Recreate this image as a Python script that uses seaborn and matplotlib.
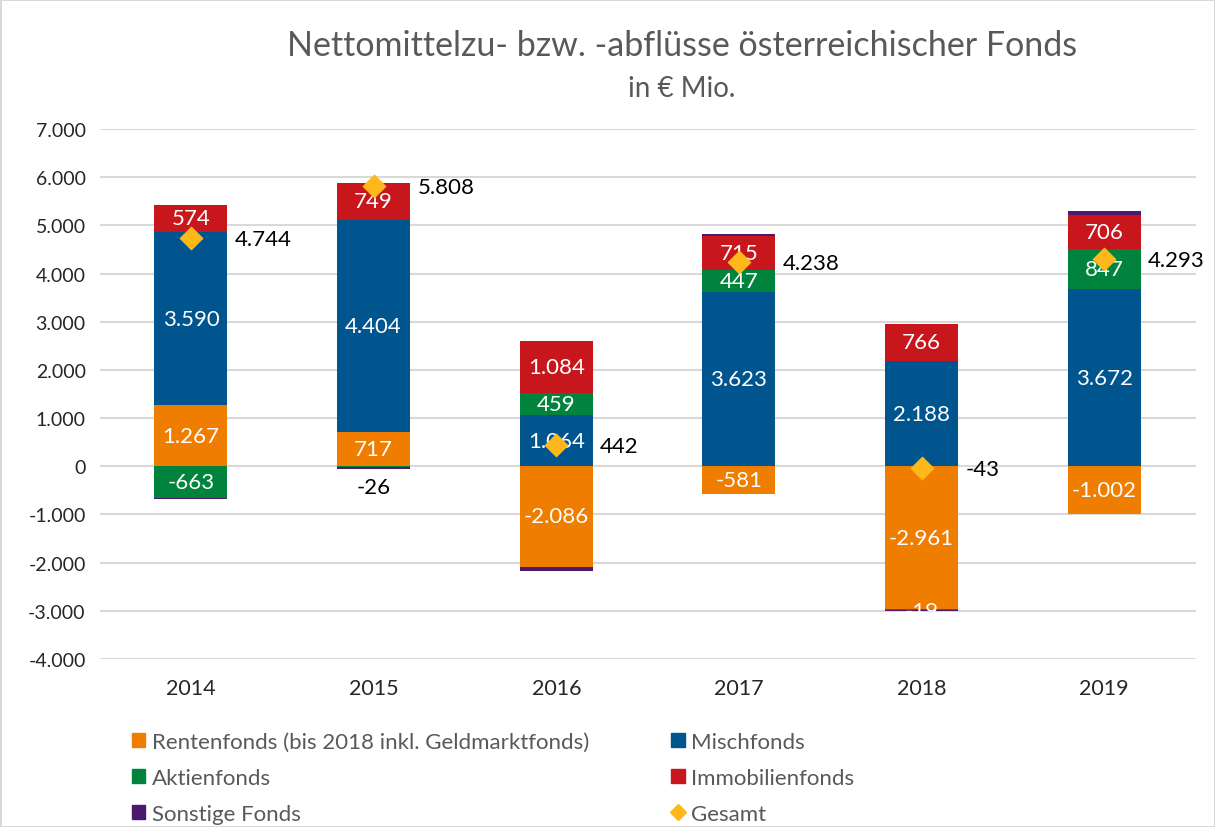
import matplotlib
matplotlib.use("Agg")
import matplotlib.pyplot as plt
from matplotlib.lines import Line2D
from matplotlib.patches import Patch
import numpy as np
import pandas as pd
import seaborn as sns

# Data (in EUR Mio.)
years = ["2014", "2015", "2016", "2017", "2018", "2019"]
rentenfonds = [1267, 717, -2086, -581, -2961, -1002]
mischfonds = [3590, 4404, 1064, 3623, 2188, 3672]
aktienfonds = [-663, -26, 459, 447, -17, 847]
immobilienfonds = [574, 749, 1084, 715, 766, 706]
sonstige = [-24, -36, -79, 34, -19, 70]
gesamt = [4744, 5808, 442, 4238, -43, 4293]

series_names = ["Rentenfonds (bis 2018 inkl. Geldmarktfonds)", "Mischfonds",
                "Aktienfonds", "Immobilienfonds", "Sonstige Fonds"]
series_vals = [rentenfonds, mischfonds, aktienfonds, immobilienfonds, sonstige]
colors = ["#EE7D00", "#00558F", "#00843D", "#C8161D", "#4B1A6E"]
gold = "#FFB81C"
grey_text = "#595959"


def fmt(v):
    return f"{v:,}".replace(",", ".")


sns.set_style("white")
plt.rcParams["font.family"] = ["Lato", "DejaVu Sans"]

fig = plt.figure(figsize=(12.15, 8.28), dpi=100)
fig.patch.set_edgecolor("#D9D9D9")
fig.patch.set_linewidth(2)
ax = fig.add_axes([0.082, 0.203, 0.902, 0.640])

lab_fs = 16

# stacked bars, positives upward and negatives downward
pos_base = np.zeros(len(years))
neg_base = np.zeros(len(years))
bar_w = 0.4
for name, vals, col in zip(series_names, series_vals, colors):
    vals = np.array(vals, dtype=float)
    bottoms = np.where(vals >= 0, pos_base, neg_base)
    df = pd.DataFrame({"year": years, "value": vals})
    sns.barplot(data=df, x="year", y="value", bottom=bottoms, color=col,
                width=bar_w, saturation=1, ax=ax, linewidth=0, zorder=3)
    # labels in segments
    for i, v in enumerate(vals):
        mid = bottoms[i] + v / 2
        if name == "Sonstige Fonds":
            if years[i] == "2018":
                ax.text(i, bottoms[i] + v - 10, fmt(int(v)), ha="center", va="center",
                        color="white", fontsize=lab_fs, zorder=4)
            continue
        if name == "Aktienfonds" and years[i] == "2015":
            ax.text(i, -440, fmt(int(v)), ha="center", va="center",
                    color="black", fontsize=lab_fs, zorder=4)
            continue
        if abs(v) < 100:
            continue
        ax.text(i, mid, fmt(int(v)), ha="center", va="center",
                color="white", fontsize=lab_fs, zorder=4)
    pos_base = pos_base + np.where(vals >= 0, vals, 0)
    neg_base = neg_base + np.where(vals < 0, vals, 0)

# total as diamonds
sns.scatterplot(x=np.arange(len(years)), y=gesamt, marker="D", s=130, color=gold,
                edgecolor=gold, ax=ax, zorder=5, legend=False)
for i, g in enumerate(gesamt):
    ax.text(i + 0.24, g - 20, fmt(g), ha="left", va="center", color="black",
            fontsize=lab_fs, zorder=6)

ax.set_xlim(-0.5, 5.5)
ax.set_ylim(-4000, 7000)
ax.set_yticks(range(-4000, 7001, 1000))
ax.set_yticklabels([fmt(t) for t in range(-4000, 7001, 1000)])
ax.yaxis.grid(True, color="#D9D9D9", linewidth=1.5, zorder=0)
ax.set_axisbelow(True)
ax.tick_params(axis="both", length=0, colors="#262626")
ax.tick_params(axis="y", labelsize=14, pad=10)
ax.tick_params(axis="x", labelsize=15.5, pad=14)
ax.set_xlabel("")
ax.set_ylabel("")
sns.despine(ax=ax, left=True, bottom=True)

fig.text(0.561, 0.945, "Nettomittelzu- bzw. -abflüsse österreichischer Fonds",
         ha="center", va="center", fontsize=24.5, color=grey_text)
fig.text(0.561, 0.893, "in € Mio.", ha="center", va="center", fontsize=20, color=grey_text)

handles = [Patch(color=colors[0], label=series_names[0]),
           Patch(color=colors[2], label=series_names[2]),
           Patch(color=colors[4], label=series_names[4]),
           Patch(color=colors[1], label=series_names[1]),
           Patch(color=colors[3], label=series_names[3]),
           Line2D([], [], marker="D", color=gold, linestyle="", markersize=8, label="Gesamt")]
leg = fig.legend(handles=handles, ncol=2, loc="lower left", bbox_to_anchor=(0.092, -0.02),
                 frameon=False, fontsize=16, handlelength=0.6, handleheight=0.6,
                 handletextpad=0.3, columnspacing=3.7, labelspacing=0.72)
for t in leg.get_texts():
    t.set_color(grey_text)

fig.savefig("out.png", dpi=100, edgecolor=fig.get_edgecolor())
